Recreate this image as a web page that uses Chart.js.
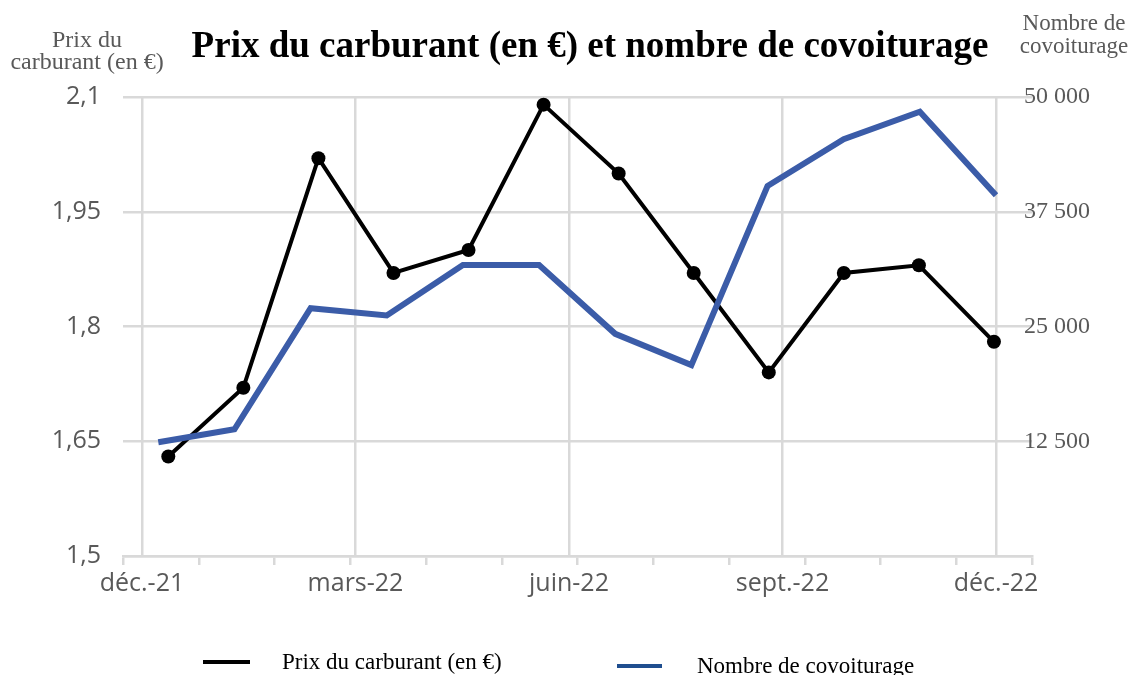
<!DOCTYPE html>
<html><head><meta charset="utf-8">
<script src="https://cdn.jsdelivr.net/npm/chart.js@4.4.0/dist/chart.umd.min.js"></script>
<style>html,body{margin:0;padding:0;background:#fff}#wrap{width:1134px;height:675px;position:relative}</style>
</head><body><div id="wrap"><canvas id="c"></canvas></div>
<script>
const months = ["janv.-22","févr.-22","mars-22","avr.-22","mai-22","juin-22","juil.-22","août-22","sept.-22","oct.-22","nov.-22","déc.-22"];
const prixCarburant = [1.63, 1.72, 2.02, 1.87, 1.90, 2.09, 2.00, 1.87, 1.74, 1.87, 1.88, 1.78];
const nombreCovoiturage = [12400, 13800, 27000, 26200, 31700, 31700, 24200, 20800, 40300, 45400, 48400, 39300];
const xTickLabels = ["déc.-21","mars-22","juin-22","sept.-22","déc.-22"];
const leftTicks = [1.5, 1.65, 1.8, 1.95, 2.1];
const rightTicks = [0, 12500, 25000, 37500, 50000];
const minorTicks = [0,1,2,3,4,5,6,7,8,9,10,11,12];
const titleText = "Prix du carburant (en €) et nombre de covoiturage";
const leftAxisTitle = ["Prix du", "carburant (en €)"];
const rightAxisTitle = ["Nombre de", "covoiturage"];
const seriesLabels = ["Prix du carburant (en €)", "Nombre de covoiturage"];

const GRID = '#d9d9d9';
const LABEL = '#595959';
const BLUE = '#3b5ca8';

const textPlugin = {
  id: 'texts',
  afterDraw(chart) {
    const ctx = chart.ctx;
    ctx.save();
    ctx.textBaseline = 'alphabetic';
    ctx.textAlign = 'center';
    ctx.fillStyle = '#000';
    ctx.font = 'bold 37px "Liberation Serif"';
    ctx.fillText(titleText, 590, 57);
    ctx.fillStyle = LABEL;
    ctx.font = '24px "Liberation Serif"';
    ctx.fillText(leftAxisTitle[0], 87, 47);
    ctx.fillText(leftAxisTitle[1], 87, 69);
    ctx.font = '23px "Liberation Serif"';
    ctx.fillText(rightAxisTitle[0], 1074, 30);
    ctx.fillText(rightAxisTitle[1], 1074, 53);
    // legend
    const items = [
      {text: seriesLabels[0], color: '#000', x0: 203, x1: 250, ly: 662, tx: 282, ty: 669},
      {text: seriesLabels[1], color: '#1f4e8f', x0: 617, x1: 662, ly: 666, tx: 697, ty: 673}
    ];
    ctx.textAlign = 'left';
    ctx.font = '23px "Liberation Serif"';
    items.forEach(it => {
      ctx.strokeStyle = it.color;
      ctx.lineWidth = 4;
      ctx.beginPath(); ctx.moveTo(it.x0, it.ly); ctx.lineTo(it.x1, it.ly); ctx.stroke();
      ctx.fillStyle = '#000';
      ctx.fillText(it.text, it.tx, it.ty);
    });
    ctx.restore();
  }
};

const setTicks = arr => (scale) => { scale.ticks = arr.map(v => ({value: v})); };

new Chart(document.getElementById('c'), {
  type: 'line',
  data: {
    datasets: [
      {
        label: seriesLabels[0],
        data: prixCarburant.map((v, i) => ({x: i, y: v})),
        xAxisID: 'xb', yAxisID: 'y',
        borderColor: '#000', backgroundColor: '#000',
        borderWidth: 4, pointRadius: 7, pointBackgroundColor: '#000', pointBorderWidth: 0,
        tension: 0, order: 1
      },
      {
        label: seriesLabels[1],
        data: nombreCovoiturage.map((v, i) => ({x: i, y: v})),
        xAxisID: 'xu', yAxisID: 'y2',
        borderColor: BLUE, backgroundColor: BLUE,
        borderWidth: 6, pointRadius: 0, tension: 0, order: 0
      }
    ]
  },
  options: {
    responsive: true, maintainAspectRatio: false, animation: false,
    layout: {padding: {top: 97, left: 0, right: 0, bottom: 0}},
    plugins: {legend: {display: false}, title: {display: false}, tooltip: {enabled: false}},
    scales: {
      xb: {type: 'linear', display: false, min: -0.6035, max: 11.507},
      xu: {type: 'linear', display: false, min: -0.4636, max: 11.473},
      xt: {
        type: 'linear', position: 'bottom', weight: 0, min: 0, max: 12,
        afterBuildTicks: setTicks(minorTicks),
        afterFit: s => { s.height = 9; },
        grid: {drawOnChartArea: false, drawTicks: true, tickLength: 9, color: GRID, lineWidth: 2.5},
        border: {display: true, color: GRID, width: 2.5},
        ticks: {display: false}
      },
      xg: {
        type: 'linear', position: 'bottom', weight: 1, min: -0.089, max: 4.1686,
        afterBuildTicks: setTicks([0,1,2,3,4]),
        afterFit: s => { s.height = 110; },
        grid: {drawOnChartArea: true, drawTicks: false, color: GRID, lineWidth: 2.5},
        border: {display: false},
        ticks: {
          padding: 4, maxRotation: 0, autoSkip: false, color: LABEL,
          font: {family: '"Open Sans"', size: 25},
          callback: v => xTickLabels[v]
        }
      },
      y: {
        type: 'linear', position: 'left', min: 1.5, max: 2.1,
        afterBuildTicks: setTicks(leftTicks),
        afterFit: s => { s.width = 123; },
        grid: {drawTicks: false, color: GRID, lineWidth: 2.5},
        border: {display: false},
        ticks: {
          padding: 22, color: LABEL, font: {family: '"Open Sans"', size: 25},
          callback: v => String(v).replace('.', ',')
        }
      },
      y2: {
        type: 'linear', position: 'right', min: 0, max: 50000,
        afterBuildTicks: setTicks(rightTicks),
        afterFit: s => { s.width = 102; },
        grid: {drawOnChartArea: false, drawTicks: false},
        border: {display: false},
        ticks: {
          mirror: true, crossAlign: 'near', padding: 58,
          color: LABEL, font: {family: '"Liberation Serif"', size: 24},
          callback: v => v === 0 ? '' : String(v).replace(/\B(?=(\d{3})+(?!\d))/g, ' ')
        }
      }
    }
  },
  plugins: [textPlugin]
});
</script>
</body></html>
